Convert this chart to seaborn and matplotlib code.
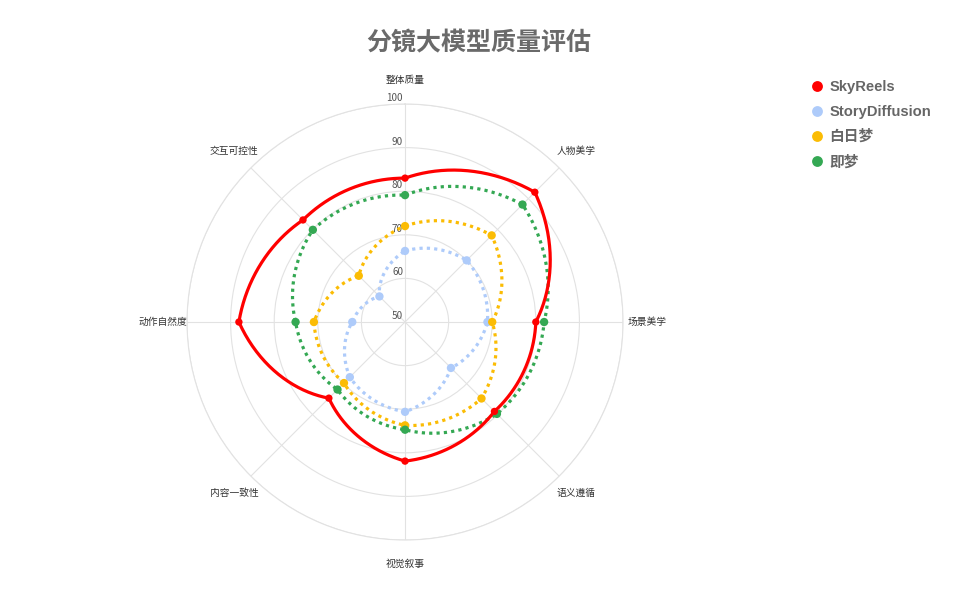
import numpy as np
import pandas as pd
import matplotlib
matplotlib.use("Agg")
import matplotlib.pyplot as plt
import seaborn as sns
from matplotlib.lines import Line2D
from matplotlib.transforms import offset_copy

# ---- data ----
categories = ['整体质量', '人物美学', '场景美学', '语义遵循', '视觉叙事', '内容一致性', '动作自然度', '交互可控性']
models = ['SkyReels', 'StoryDiffusion', '白日梦', '即梦']
skyreels = [83.0, 92.1, 80.0, 79.0, 81.9, 74.7, 88.1, 83.1]
storydiffusion = [66.3, 70.0, 68.9, 64.9, 70.6, 67.9, 62.1, 58.3]
bairimeng = [72.0, 78.1, 70.0, 74.8, 73.7, 69.8, 70.9, 65.0]
jimeng = [79.1, 88.1, 81.9, 79.8, 74.7, 71.9, 75.1, 79.9]
r_ticks = [50, 60, 70, 80, 90, 100]

series = {'SkyReels': skyreels, 'StoryDiffusion': storydiffusion, '白日梦': bairimeng, '即梦': jimeng}
colors = {'SkyReels': '#ff0000', 'StoryDiffusion': '#aecbfa', '白日梦': '#fbbc04', '即梦': '#34a853'}

sns.set_theme(style='white')
plt.rcParams['font.family'] = ['Liberation Sans', 'Noto Sans CJK SC', 'DejaVu Sans']
CJK = ['Noto Sans CJK SC', 'DejaVu Sans']

fig = plt.figure(figsize=(9.6, 5.95), dpi=100)
ax = fig.add_axes([0.1948, 0.0924, 0.4542, 0.7328], projection='polar')
ax.set_theta_zero_location('N')
ax.set_theta_direction(-1)
rmin, rmax = r_ticks[0], r_ticks[-1]
ax.set_ylim(rmin, rmax)

n = len(categories)
angles = np.arange(n) * 2 * np.pi / n

# grid
ax.set_yticks(r_ticks[1:])
ax.set_yticklabels([])
ax.set_xticks(angles)
ax.set_xticklabels([])
ax.grid(True, color='#e2e2e2', lw=0.8)
ax.spines['polar'].set_color('#e2e2e2')
ax.spines['polar'].set_linewidth(0.8)
ax.tick_params(length=0)

# tick labels
tr = offset_copy(ax.transData, fig=fig, x=-2, y=1, units='dots')
for v in r_ticks:
    ax.text(0, v, str(v), transform=tr, ha='right', va='bottom', fontsize=7.2,
            color='#555555', family=CJK)
# category labels
for a, c in zip(angles, categories):
    ax.text(a, rmin + (rmax - rmin) * 242 / 218, c, ha='center', va='center',
            fontsize=7, color='#333333', family=CJK, clip_on=False)

rows = []
for mname in models:
    for a, c, v in zip(angles, categories, series[mname]):
        rows.append({'model': mname, 'category': c, 'theta': a, 'value': v})
df = pd.DataFrame(rows)


def polar_path(vals, steps=60):
    """Segments drawn linearly in (theta, r) space, as a polar line renderer does."""
    th_all, r_all = [], []
    m = len(vals)
    for i in range(m):
        t = np.linspace(0, 1, steps, endpoint=False)
        th_all.append(angles[i] + t * (2 * np.pi / m))
        r_all.append(vals[i] + t * (vals[(i + 1) % m] - vals[i]))
    th_all.append([2 * np.pi])
    r_all.append([vals[0]])
    return np.concatenate(th_all), np.concatenate(r_all)


zorders = {'SkyReels': 6, 'StoryDiffusion': 3, '白日梦': 4, '即梦': 5}
for mname in models[::-1]:
    th, rr = polar_path(series[mname])
    if mname == 'SkyReels':
        ax.plot(th, rr, color=colors[mname], lw=2.3, solid_joinstyle='miter', zorder=zorders[mname])
    else:
        ax.plot(th, rr, color=colors[mname], lw=2.3, linestyle=(0, (1, 1.3)), zorder=zorders[mname])

for mname in models[::-1]:
    sub = df[df['model'] == mname]
    sns.scatterplot(data=sub, x='theta', y='value', ax=ax, color=colors[mname],
                    s=36 if mname != 'SkyReels' else 28, edgecolor='none', legend=False,
                    zorder=zorders[mname] + 1)
ax.set_xlabel('')
ax.set_ylabel('')
ax.set_ylim(rmin, rmax)

# title
fig.text(0.499, 1 - 43 / 595, '分镜大模型质量评估', ha='center', va='center', fontsize=18,
         fontweight='bold', color='#6a6a6a', family=CJK)

# legend
handles = [Line2D([0], [0], marker='o', linestyle='none', markersize=7.8,
                  markerfacecolor=colors[m], markeredgecolor='none') for m in models]
leg = fig.legend(handles, models, loc='upper left', bbox_to_anchor=(811 / 960, 1 - 80 / 595),
                 frameon=False, handlelength=0.8, handletextpad=0.45, labelspacing=0.74,
                 borderpad=0, borderaxespad=0, prop={'weight': 'bold', 'size': 10.6,
                                                     'family': ['Liberation Sans', 'Noto Sans CJK SC']})
for t in leg.get_texts():
    t.set_color('#666666')

fig.savefig('out.png', dpi=100)
